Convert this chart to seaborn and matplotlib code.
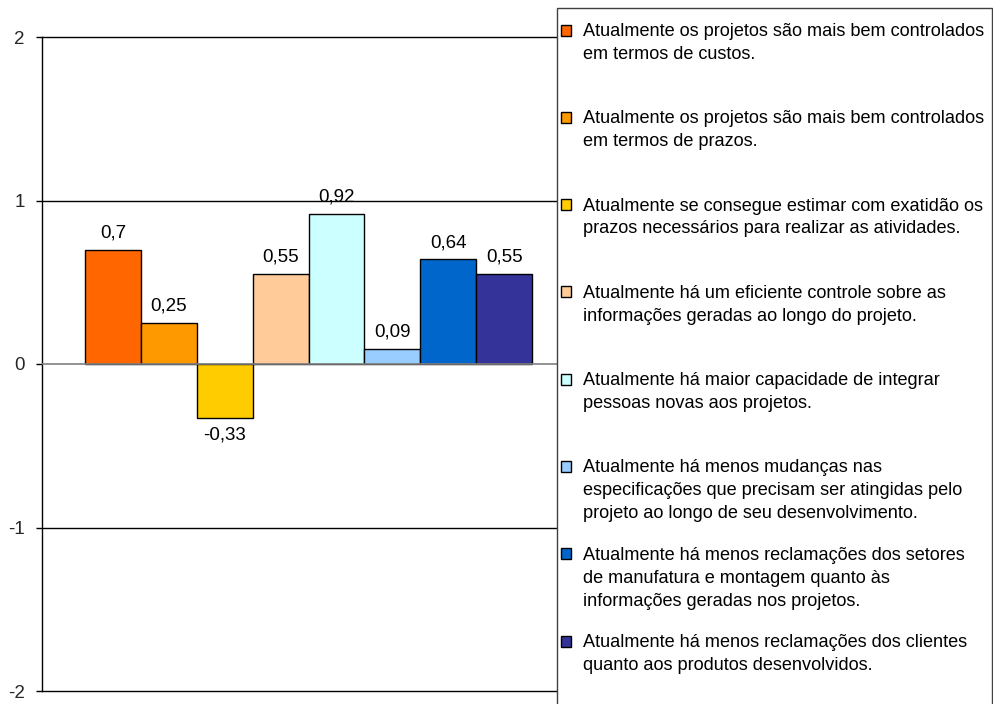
import matplotlib
matplotlib.use("Agg")
import matplotlib.pyplot as plt
from matplotlib.patches import Rectangle
import seaborn as sns
import pandas as pd

# Survey statements (legend entries) and their mean scores
statements = [
    "Atualmente os projetos são mais bem controlados\nem termos de custos.",
    "Atualmente os projetos são mais bem controlados\nem termos de prazos.",
    "Atualmente se consegue estimar com exatidão os\nprazos necessários para realizar as atividades.",
    "Atualmente há um eficiente controle sobre as\ninformações geradas ao longo do projeto.",
    "Atualmente há maior capacidade de integrar\npessoas novas aos projetos.",
    "Atualmente há menos mudanças nas\nespecificações que precisam ser atingidas pelo\nprojeto ao longo de seu desenvolvimento.",
    "Atualmente há menos reclamações dos setores\nde manufatura e montagem quanto às\ninformações geradas nos projetos.",
    "Atualmente há menos reclamações dos clientes\nquanto aos produtos desenvolvidos.",
]
scores = [0.7, 0.25, -0.33, 0.55, 0.92, 0.09, 0.64, 0.55]
colors = ["#FF6600", "#FF9900", "#FFCC00", "#FFCC99",
          "#CCFFFF", "#99CCFF", "#0066CC", "#333399"]
y_ticks = [-2, -1, 0, 1, 2]

df = pd.DataFrame({"grupo": ["g"] * len(scores),
                   "afirmacao": statements,
                   "media": scores})

sns.set_theme(style="white")
plt.rcParams["font.family"] = ["Liberation Sans", "DejaVu Sans"]

W, H = 993, 704
fig = plt.figure(figsize=(W / 100, H / 100), dpi=100)
ax = fig.add_axes([42 / W, 1 - 691 / H, (557 - 42) / W, (691 - 37) / H])

sns.barplot(data=df, x="grupo", y="media", hue="afirmacao",
            hue_order=statements, palette=colors, width=0.868,
            edgecolor="black", linewidth=1, saturation=1,
            legend=False, ax=ax)

for cont in ax.containers:
    ax.bar_label(cont, labels=[f"{v:g}".replace(".", ",") for v in cont.datavalues],
                 padding=6, fontsize=13.5, color="black")

ax.set_xlim(-0.5175, 0.4825)
ax.set_ylim(-2, 2)
ax.set_yticks(y_ticks)
ax.set_yticklabels([str(t) for t in y_ticks], fontsize=13.5)
ax.set_xticks([])
ax.set_xlabel("")
ax.set_ylabel("")
ax.tick_params(axis="y", direction="out", length=4.3, width=1, color="black",
               pad=8, left=True)
for t in [-1, 1]:
    ax.axhline(t, color="black", linewidth=1, zorder=0)
ax.axhline(0, color="#808080", linewidth=1.2, zorder=3)
for side in ["left", "top", "bottom"]:
    ax.spines[side].set_visible(True)
    ax.spines[side].set_color("black")
    ax.spines[side].set_linewidth(1)
ax.spines["right"].set_visible(False)

# Legend panel drawn beside the plot
fig.patches.append(Rectangle((557 / W, -0.05), (992 - 557) / W, 1.05 - 8 / H,
                             transform=fig.transFigure, facecolor="white",
                             edgecolor="#404040", linewidth=1, zorder=5))
y0, step = 30, 87.3
for i, (label, col) in enumerate(zip(statements, colors)):
    yc = y0 + step * i
    fig.patches.append(Rectangle((561 / W, 1 - (yc + 5.5) / H), 10 / W, 11 / H,
                                 transform=fig.transFigure, facecolor=col,
                                 edgecolor="black", linewidth=1, zorder=6))
    fig.text(583 / W, 1 - (yc - 7) / H, label, fontsize=13.1, va="top",
             ha="left", linespacing=1.45, color="black", zorder=7)

fig.savefig("out.png", dpi=100, facecolor="white")
